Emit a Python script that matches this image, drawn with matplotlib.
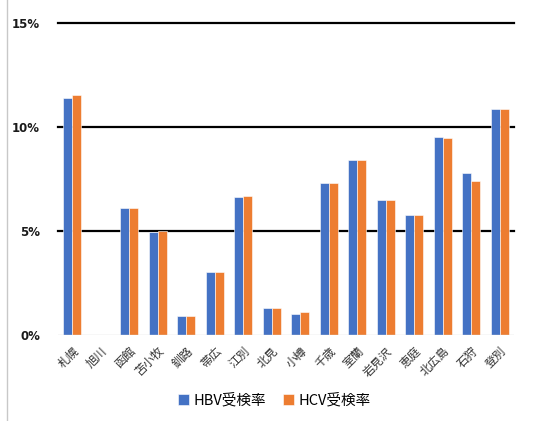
import matplotlib
matplotlib.use("Agg")
import matplotlib.pyplot as plt
import numpy as np
from matplotlib.lines import Line2D

plt.rcParams['font.family'] = ['Noto Sans CJK JP', 'DejaVu Sans']

categories = ['札幌', '旭川', '函館', '苫小牧', '釧路', '帯広', '江別', '北見', '小樽',
              '千歳', '室蘭', '岩見沢', '恵庭', '北広島', '石狩', '登別']
hbv = [11.38, 0.0, 6.10, 4.95, 0.93, 3.01, 6.65, 1.28, 1.01,
       7.29, 8.41, 6.47, 5.77, 9.50, 7.77, 10.85]
hcv = [11.54, 0.0, 6.10, 5.00, 0.93, 3.01, 6.68, 1.28, 1.11,
       7.29, 8.41, 6.47, 5.77, 9.47, 7.42, 10.85]
yticks = [0, 5, 10, 15]
ytick_labels = ['0%', '5%', '10%', '15%']
series_names = ['HBV受検率', 'HCV受検率']

fig = plt.figure(figsize=(5.38, 4.21), dpi=100)
ax = fig.add_axes([58/538, 1-335/421, (514-58)/538, (335-23)/421])

x = np.arange(len(categories))
w = 0.32
ax.bar(x - w/2, hbv, width=w, color='#4472C4', edgecolor='white', linewidth=0.4, label=series_names[0], zorder=3)
ax.bar(x + w/2, hcv, width=w, color='#ED7D31', edgecolor='white', linewidth=0.4, label=series_names[1], zorder=3)

ax.set_xlim(-0.5, len(categories) - 0.5)
ax.set_ylim(0, 15)
ax.set_yticks(yticks)
ax.set_yticklabels(ytick_labels, fontsize=8.5, fontweight='bold', color='#1a1a1a',
                   family=['DejaVu Sans'])
for yv in [5, 10, 15]:
    ax.axhline(yv, color='black', linewidth=1.6, zorder=2, clip_on=False)
ax.axhline(0, color='#D9D9D9', linewidth=1.0, zorder=4)

ax.set_xticks(x)
ax.set_xticklabels(categories, rotation=45, ha='right', va='top', rotation_mode='anchor',
                   fontsize=8.5, color='#333333')
for lbl in ax.get_xticklabels():
    lbl.set_x(lbl.get_position()[0])
ax.tick_params(axis='both', length=0)
ax.tick_params(axis='y', pad=13)
ax.tick_params(axis='x', pad=7)
for s in ax.spines.values():
    s.set_visible(False)

fig.add_artist(Line2D([7/538, 7/538], [0, 1], transform=fig.transFigure, color='#C8C8C8', linewidth=1))

fig.legend(loc='center', bbox_to_anchor=(0.51, 1-400/421), ncol=2, frameon=False,
           fontsize=10.5, handlelength=0.75, handleheight=0.75, handletextpad=0.3, columnspacing=1.2)

fig.savefig('out.png', dpi=100)
